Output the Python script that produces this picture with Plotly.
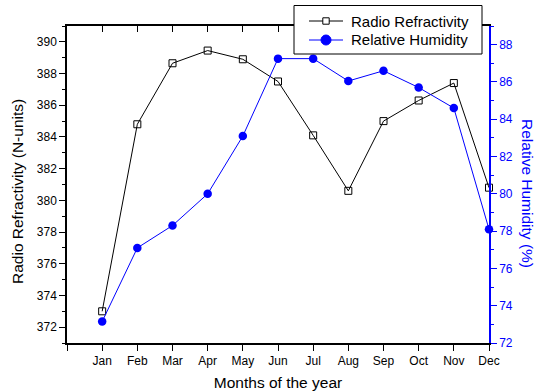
import plotly.graph_objects as go

months = ["Jan", "Feb", "Mar", "Apr", "May", "Jun", "Jul", "Aug", "Sep", "Oct", "Nov", "Dec"]
month_pos = list(range(1, 13))
refractivity = [373.0, 384.8, 388.65, 389.45, 388.9, 387.5, 384.1, 380.6, 385.0, 386.3, 387.4, 380.8]
humidity = [73.15, 77.1, 78.3, 80.0, 83.1, 87.25, 87.25, 86.05, 86.6, 85.7, 84.6, 78.1]
series_names = ["Radio Refractivity", "Relative Humidity"]

FONT = "Liberation Sans, Arial, sans-serif"
BLUE = "#0000ff"

W, H = 536, 391
ML, MR, MT, MB = 67, 47, 26, 48
PW, PH = W - ML - MR, H - MT - MB


def px_x(x):
    """page pixel column -> paper x"""
    return (x - ML) / PW


def px_y(y):
    """page pixel row -> paper y"""
    return (H - MB - y) / PH


fig = go.Figure()

fig.add_trace(go.Scatter(
    x=month_pos, y=refractivity, name=series_names[0],
    mode="lines+markers",
    line=dict(color="black", width=1),
    marker=dict(symbol="square-open", size=7, color="black", line=dict(width=1)),
    xaxis="x", yaxis="y", cliponaxis=False,
))
fig.add_trace(go.Scatter(
    x=month_pos, y=humidity, name=series_names[1],
    mode="lines+markers",
    line=dict(color=BLUE, width=1),
    marker=dict(symbol="circle", size=8.5, color=BLUE),
    xaxis="x", yaxis="y2", cliponaxis=False,
))
# invisible trace to activate the top mirror axis
fig.add_trace(go.Scatter(x=[0], y=[371], xaxis="x2", yaxis="y", mode="markers",
                         marker=dict(opacity=0), showlegend=False, hoverinfo="skip"))

tick_font = dict(family=FONT, size=12, color="black")
title_font = dict(family=FONT, size=15.5, color="black")

# ---- boxed legend, drawn over the plot area ----
shapes = [dict(
    type="rect", xref="paper", yref="paper", layer="above",
    x0=px_x(294), x1=px_x(482), y0=px_y(54), y1=px_y(5.5),
    fillcolor="white", line=dict(color="black", width=1),
)]
annotations = []
legend_rows = [(21, "black", "square"), (40, BLUE, "circle")]
for (row_y, color, sym), name in zip(legend_rows, series_names):
    yc = px_y(row_y)
    shapes.append(dict(type="line", xref="paper", yref="paper", layer="above",
                       x0=px_x(309), x1=px_x(343), y0=yc, y1=yc,
                       line=dict(color=color, width=1)))
    half = 3.2 if sym == "square" else 5
    shapes.append(dict(
        type="rect" if sym == "square" else "circle", layer="above",
        xref="paper", yref="paper", xsizemode="pixel", ysizemode="pixel",
        xanchor=px_x(326), yanchor=yc,
        x0=-half, x1=half, y0=-half, y1=half,
        fillcolor="white" if sym == "square" else color,
        line=dict(color=color, width=1),
    ))
    annotations.append(dict(
        text=name, xref="paper", yref="paper", x=px_x(349), y=yc,
        xanchor="left", yanchor="middle", showarrow=False,
        font=dict(family=FONT, size=15, color="black"),
    ))

# axis titles on the y sides
annotations.append(dict(
    text="Radio Refractivity (N-units)", textangle=-90,
    xref="paper", yref="paper", x=px_x(17), y=px_y(192),
    xanchor="center", yanchor="middle", showarrow=False, font=title_font,
))
annotations.append(dict(
    text="Relative Humidity (%)", textangle=90,
    xref="paper", yref="paper", x=px_x(528), y=px_y(193),
    xanchor="center", yanchor="middle", showarrow=False,
    font=dict(family=FONT, size=15.5, color=BLUE),
))

fig.update_layout(
    width=W, height=H,
    margin=dict(l=ML, r=MR, t=MT, b=MB, autoexpand=False),
    paper_bgcolor="white", plot_bgcolor="white",
    font=dict(family=FONT, size=14, color="black"),
    showlegend=False,
    xaxis=dict(
        range=[0, 12], automargin=False,
        tickvals=[0] + month_pos, ticktext=[""] + months, tickangle=0,
        ticks="outside", ticklen=6, tickwidth=1, tickcolor="black",
        showline=True, linecolor="black", linewidth=1.5,
        showgrid=False, zeroline=False,
        tickfont=tick_font,
        title=dict(text="Months of the year", font=title_font, standoff=14),
    ),
    xaxis2=dict(
        range=[0, 12], overlaying="x", side="top", matches="x", automargin=False,
        tickvals=[0] + month_pos, showticklabels=False,
        ticks="inside", ticklen=6, tickwidth=1, tickcolor="black",
        showline=True, linecolor="black", linewidth=1.5,
        showgrid=False, zeroline=False,
    ),
    yaxis=dict(
        range=[371, 391], dtick=2, tick0=372, automargin=False,
        ticks="outside", ticklen=6, tickwidth=1, tickcolor="black",
        minor=dict(dtick=1, tick0=371, ticks="outside", ticklen=3, tickcolor="black", showgrid=False),
        showline=True, linecolor="black", linewidth=1.5,
        showgrid=False, zeroline=False,
        tickfont=tick_font,
    ),
    yaxis2=dict(
        range=[72, 89], dtick=2, tick0=72, overlaying="y", side="right", automargin=False,
        ticks="outside", ticklen=6, tickwidth=1, tickcolor=BLUE,
        minor=dict(dtick=1, tick0=72, ticks="outside", ticklen=3, tickcolor=BLUE, showgrid=False),
        showline=True, linecolor=BLUE, linewidth=1.5,
        showgrid=False, zeroline=False,
        tickfont=dict(family=FONT, size=12, color=BLUE),
    ),
    shapes=shapes,
    annotations=annotations,
)

fig.write_html("out.html")
